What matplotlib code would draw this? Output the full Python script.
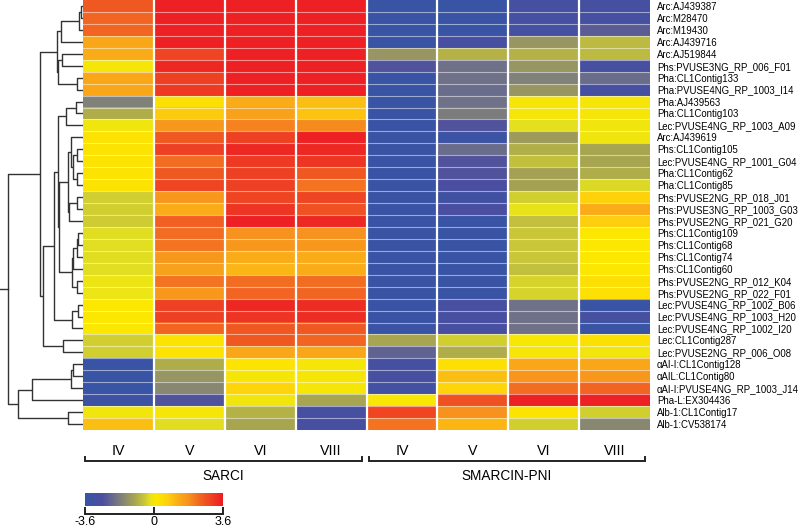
import numpy as np
import matplotlib
matplotlib.use("Agg")
import matplotlib.pyplot as plt
from matplotlib.colors import LinearSegmentedColormap, Normalize
from matplotlib.transforms import blended_transform_factory

plt.rcParams['font.family'] = ['Liberation Sans', 'DejaVu Sans']

# ---- data ----
stages = ["IV", "V", "VI", "VIII", "IV", "V", "VI", "VIII"]
groups = [("SARCI", 0, 3), ("SMARCIN-PNI", 4, 7)]

genes = [
    "Arc:AJ439387", "Arc:M28470", "Arc:M19430", "Arc:AJ439716", "Arc:AJ519844",
    "Phs:PVUSE3NG_RP_006_F01", "Pha:CL1Contig133", "Pha:PVUSE4NG_RP_1003_I14",
    "Pha:AJ439563", "Pha:CL1Contig103", "Lec:PVUSE4NG_RP_1003_A09", "Arc:AJ439619",
    "Phs:CL1Contig105", "Lec:PVUSE4NG_RP_1001_G04", "Pha:CL1Contig62", "Pha:CL1Contig85",
    "Phs:PVUSE2NG_RP_018_J01", "Phs:PVUSE3NG_RP_1003_G03", "Phs:PVUSE2NG_RP_021_G20",
    "Phs:CL1Contig109", "Phs:CL1Contig68", "Phs:CL1Contig74", "Phs:CL1Contig60",
    "Phs:PVUSE2NG_RP_012_K04", "Phs:PVUSE2NG_RP_022_F01", "Lec:PVUSE4NG_RP_1002_B06",
    "Lec:PVUSE4NG_RP_1003_H20", "Lec:PVUSE4NG_RP_1002_I20", "Lec:CL1Contig287",
    "Lec:PVUSE2NG_RP_006_O08", "\u03b1AI-I:CL1Contig128", "\u03b1AIL:CL1Contig80",
    "\u03b1AI-I:PVUSE4NG_RP_1003_J14", "Pha-L:EX304436", "Alb-1:CL1Contig17",
    "Alb-1:CV538174",
]

# log ratio, columns: SARCI IV V VI VIII | SMARCIN-PNI IV V VI VIII
values = np.array([
    [2.6, 3.5, 3.5, 3.5, -3.5, -3.5, -3.0, -3.0],
    [2.4, 3.5, 3.5, 3.5, -3.5, -3.5, -3.0, -3.0],
    [2.4, 3.5, 3.5, 3.5, -3.5, -3.5, -3.0, -2.4],
    [1.4, 3.5, 3.5, 3.5, -3.5, -2.9, -1.3, -0.7],
    [1.3, 2.9, 3.5, 3.5, -1.3, -0.8, -0.8, -0.7],
    [0.0, 3.4, 3.5, 3.5, -2.6, -2.0, -1.3, -2.9],
    [1.4, 3.0, 3.5, 3.5, -3.5, -2.0, -1.7, -2.1],
    [1.4, 3.1, 3.5, 3.5, -3.5, -2.1, -1.3, -2.9],
    [-1.7, 0.3, 1.3, 1.0, -3.5, -2.0, 0.0, 0.0],
    [-0.9, 0.8, 1.5, 0.9, -3.5, -1.8, 0.0, 0.0],
    [-0.05, 1.7, 2.0, 1.9, -3.5, -2.6, -0.2, -0.05],
    [0.2, 2.6, 3.0, 3.5, -3.5, -3.4, -1.2, -0.05],
    [0.2, 3.0, 3.4, 3.4, -3.5, -2.1, -0.85, -1.0],
    [0.2, 2.3, 3.1, 3.2, -3.5, -2.6, -0.6, -1.0],
    [0.2, 2.6, 3.0, 2.6, -3.5, -2.6, -1.05, -0.9],
    [0.2, 2.9, 3.0, 2.2, -3.5, -2.8, -1.05, -0.3],
    [-0.4, 1.7, 2.9, 2.9, -3.5, -3.2, -0.4, 0.7],
    [-0.4, 1.3, 3.2, 2.7, -3.5, -2.8, -0.15, 1.3],
    [-0.45, 2.5, 3.5, 3.4, -3.5, -3.5, -0.6, 0.75],
    [-0.25, 2.3, 1.8, 1.8, -3.5, -3.5, -0.5, 0.1],
    [-0.25, 2.2, 1.7, 1.7, -3.5, -3.5, -0.5, 0.1],
    [-0.25, 1.7, 1.3, 1.3, -3.5, -3.5, -0.5, 0.1],
    [-0.25, 1.5, 1.1, 1.3, -3.5, -3.5, -0.6, 0.1],
    [-0.1, 2.2, 2.3, 2.3, -3.5, -3.5, -0.35, 0.3],
    [-0.1, 1.7, 2.4, 2.4, -3.5, -3.5, -0.35, 0.3],
    [0.1, 3.0, 3.4, 3.3, -3.5, -2.9, -2.0, -3.5],
    [0.1, 3.0, 3.2, 3.3, -3.5, -2.9, -2.0, -3.0],
    [0.1, 2.4, 2.6, 2.6, -3.5, -2.9, -2.0, -3.5],
    [-0.4, 0.2, 2.6, 2.4, -1.0, -0.4, 0.05, 0.3],
    [-0.4, 0.2, 1.4, 1.4, -2.3, -0.9, 0.0, -0.05],
    [-3.5, -0.9, 0.2, 0.0, -3.0, 0.3, 1.4, 1.4],
    [-3.5, -1.3, 0.0, 0.0, -2.9, 1.0, 1.75, 1.7],
    [-3.5, -1.6, 0.6, 0.0, -3.1, 0.6, 2.3, 2.4],
    [-3.3, -2.6, -0.05, -1.0, 0.05, 2.7, 3.5, 3.5],
    [-0.05, 0.0, -0.8, -2.9, 2.9, 1.8, 0.2, -0.4],
    [1.0, -0.25, -1.0, -2.9, 2.2, 1.1, -0.4, -1.6],
])

# row dendrogram: (height, left, right), leaves are row indices
top = (25.7, (22, (4, (2, 0, 1), 2), 3), (24.7, (21.5, 4, 5), (6, 6, 7)))
c9_11 = (17.3, (7, 8, 9), 10)
c12_16 = (12.3, 11, (10.3, (6, 12, 13), (6, 14, 15)))
c17_19 = (13.7, (6, 16, 17), 18)
c20_25 = (11, (10.3, (6, (5, 19, 20), 21), 22), (6, 23, 24))
c12_25 = (24.5, (15, c12_16, c17_19), c20_25)
c26_28 = (11, (5.3, 25, 26), 27)
c9_30 = (39.7, (29, (25.5, c9_11, c12_25), c26_28), (19.7, 28, 29))
upper = (43.3, top, c9_30)
lower = (65.7, (50.7, (12, (9.7, 30, 31), 32), 33), (15, 34, 35))
tree = (75.7, upper, lower)

vmin, vmax = -3.6, 3.6
cmap_vals = [-3.6, -2.7, -2.0, -1.5, -1.0, -0.5, -0.2, 0.1, 0.7, 1.2, 1.8, 2.4, 3.0, 3.6]
cmap_cols = ['#3855a5', '#4d4ea0', '#707288', '#8d8c6e', '#a8a64f', '#c9c738', '#e5e21e',
             '#fde800', '#fdd20c', '#fbb117', '#f7941d', '#f26522', '#ef4123', '#ed1c24']

cmap = LinearSegmentedColormap.from_list(
    "rb", [((v - vmin) / (vmax - vmin), c) for v, c in zip(cmap_vals, cmap_cols)])
norm = Normalize(vmin, vmax)

fig = plt.figure(figsize=(8, 5.28), dpi=100)
ax = fig.add_axes([83 / 800, 1 - 430 / 528, 567 / 800, 430 / 528])
dax = fig.add_axes([0, 1 - 430 / 528, 83 / 800, 430 / 528], sharey=ax)

nrow, ncol = values.shape
ax.imshow(values, cmap=cmap, norm=norm, aspect='auto', interpolation='nearest')
for i in range(1, nrow):
    ax.axhline(i - 0.5, color='white', lw=0.8, alpha=0.5)
for j in range(1, ncol):
    ax.axvline(j - 0.5, color='white', lw=1.6)
ax.set_ylim(nrow - 0.5, -0.5)
for s in ax.spines.values():
    s.set_visible(False)

ax.yaxis.tick_right()
ax.set_yticks(range(nrow))
ax.set_yticklabels(genes, fontsize=6.9)
ax.set_xticks(range(ncol))
ax.set_xticklabels(stages, fontsize=10.3)
ax.tick_params(length=0)
ax.tick_params(axis='y', pad=5)
ax.tick_params(axis='x', pad=10)

# group brackets
tr = blended_transform_factory(ax.transData, ax.transAxes)
for name, a, b in groups:
    x0, x1 = a - 0.47, b + 0.43
    ax.plot([x0, x0, x1, x1], [-0.062, -0.071, -0.071, -0.062], transform=tr,
            color='#222222', lw=1.4, clip_on=False, solid_joinstyle='miter')
    ax.text((x0 + x1) / 2, -0.107, name, transform=tr, ha='center', va='center',
            fontsize=9.8)


# dendrogram
def draw(node):
    if isinstance(node, int):
        return node, 0.0
    h, l, r = node
    yl, hl = draw(l)
    yr, hr = draw(r)
    dax.plot([hl, h, h, hr], [yl, yl, yr, yr], color='#333333', lw=1.0,
             solid_capstyle='butt')
    return (yl + yr) / 2, h


yroot, hroot = draw(tree)
xmax = hroot * 1.1
dax.plot([hroot, xmax], [yroot, yroot], color='#333333', lw=1.0)
dax.set_xlim(xmax, 0)
dax.axis('off')

# colour key
cax = fig.add_axes([85 / 800, 1 - 506 / 528, 138 / 800, 13 / 528])
grad = np.linspace(vmin, vmax, 256)[None, :]
cax.imshow(grad, cmap=cmap, norm=norm, aspect='auto',
           extent=(vmin, vmax, 0, 1))
cax.set_xlim(vmin, vmax)
cax.set_yticks([])
for k in ['top', 'left', 'right']:
    cax.spines[k].set_visible(False)
cax.spines['bottom'].set_position(('outward', 6))
cax.spines['bottom'].set_linewidth(1.4)
cax.spines['bottom'].set_color('#222222')
cax.set_xticks([vmin, 0, vmax])
cax.set_xticklabels(['-3.6', '0', '3.6'], fontsize=9)
cax.tick_params(axis='x', direction='in', length=5, width=1.4, color='#222222', pad=1.5)

fig.savefig("out.png", dpi=100)
